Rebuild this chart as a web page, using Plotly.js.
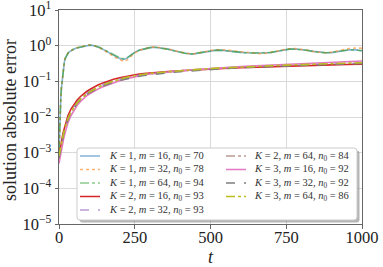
<!DOCTYPE html>
<html>
<head>
<meta charset="utf-8">
<script src="https://cdn.plot.ly/plotly-3.0.1.min.js"></script>
<style>html,body{margin:0;padding:0;background:#fff;}#chart{width:383px;height:267px;}</style>
</head>
<body>
<div id="chart"></div>
<script>
// time grids
const tA = [0,1,2,3,4,6,8,10,12,15,18,21,25,30,35,40,47,53,60,70,80,90,100,110,120,135,150,168,185,200,214,225,240,251,265,284,300,317,340,360,383,400,416,440,460,480,500,520,540,560,580,600,620,640,660,680,700,720,740,760,780,800,820,840,860,880,900,920,940,960,980,1000];
const tB = [0,3,6,10,15,20,25,30,40,50,60,70,80,90,100,115,130,145,160,180,200,220,240,260,280,300,330,360,400,440,480,520,560,600,650,700,750,800,850,900,950,1000];

// K = 1 series (on tA)
const k1m16 = [0.0010,0.0025,0.0050,0.0095,0.016,0.035,0.065,0.10,0.15,0.26,0.36,0.44,0.53,0.62,0.68,0.73,0.79,0.83,0.86,0.91,0.95,0.99,1.03,1.02,0.97,0.87,0.75,0.62,0.50,0.44,0.41,0.45,0.57,0.66,0.75,0.84,0.88,0.90,0.86,0.80,0.71,0.65,0.61,0.58,0.62,0.68,0.72,0.75,0.74,0.72,0.68,0.65,0.63,0.62,0.62,0.62,0.64,0.69,0.75,0.80,0.81,0.79,0.74,0.69,0.65,0.63,0.64,0.68,0.73,0.77,0.76,0.72];
const k1m32 = [0.0008,0.0020,0.0045,0.0090,0.015,0.033,0.062,0.098,0.15,0.27,0.38,0.46,0.55,0.63,0.69,0.74,0.80,0.84,0.88,0.92,0.97,1.01,1.05,1.03,0.98,0.86,0.73,0.59,0.47,0.40,0.36,0.40,0.53,0.63,0.74,0.84,0.90,0.93,0.88,0.81,0.72,0.66,0.62,0.58,0.61,0.67,0.73,0.77,0.77,0.74,0.70,0.66,0.63,0.61,0.60,0.61,0.64,0.70,0.77,0.82,0.83,0.80,0.74,0.68,0.64,0.63,0.66,0.72,0.79,0.84,0.86,0.85];
const k1m64 = [0.0012,0.0030,0.0060,0.011,0.018,0.038,0.068,0.105,0.16,0.27,0.37,0.45,0.54,0.62,0.69,0.74,0.80,0.84,0.87,0.92,0.96,1.00,1.04,1.03,0.99,0.89,0.77,0.64,0.52,0.46,0.43,0.46,0.56,0.65,0.74,0.83,0.88,0.90,0.86,0.79,0.71,0.65,0.61,0.59,0.63,0.69,0.73,0.75,0.74,0.71,0.67,0.64,0.62,0.62,0.63,0.63,0.65,0.70,0.76,0.80,0.80,0.78,0.73,0.68,0.64,0.63,0.65,0.69,0.74,0.77,0.75,0.72];

// K = 2 and K = 3 series (on tB)
const k2m16 = [0.0007,0.0011,0.0016,0.0025,0.0040,0.0060,0.0085,0.0112,0.0170,0.0235,0.0300,0.0370,0.0440,0.0510,0.0580,0.0690,0.0800,0.0905,0.1010,0.1140,0.1260,0.1375,0.1480,0.1565,0.1640,0.1710,0.1800,0.1880,0.1980,0.2080,0.2170,0.2250,0.2330,0.2410,0.2500,0.2590,0.2670,0.2750,0.2830,0.2900,0.2960,0.3020];
const k2m32 = [0.0007,0.0010,0.0014,0.0021,0.0033,0.0049,0.0069,0.0091,0.0141,0.0198,0.0256,0.0322,0.0388,0.0452,0.0518,0.0618,0.0716,0.0815,0.0912,0.1038,0.1165,0.1285,0.1395,0.1490,0.1575,0.1650,0.1755,0.1850,0.1975,0.2090,0.2195,0.2300,0.2395,0.2485,0.2590,0.2690,0.2785,0.2875,0.2965,0.3050,0.3130,0.3210];
const k2m64 = [0.0008,0.0011,0.0015,0.0022,0.0034,0.0051,0.0071,0.0093,0.0142,0.0198,0.0254,0.0316,0.0378,0.0440,0.0502,0.0595,0.0690,0.0785,0.0880,0.1005,0.1130,0.1250,0.1360,0.1460,0.1545,0.1625,0.1735,0.1835,0.1965,0.2080,0.2190,0.2295,0.2395,0.2490,0.2600,0.2710,0.2810,0.2905,0.3000,0.3090,0.3175,0.3260];
const k3m16 = [0.0005,0.0007,0.0010,0.0015,0.0024,0.0036,0.0052,0.0071,0.0112,0.0160,0.0212,0.0268,0.0325,0.0383,0.0440,0.0528,0.0615,0.0705,0.0795,0.0915,0.1040,0.1165,0.1280,0.1400,0.1500,0.1600,0.1720,0.1830,0.1970,0.2100,0.2230,0.2350,0.2470,0.2590,0.2730,0.2870,0.3010,0.3150,0.3290,0.3430,0.3570,0.3700];
const k3m32 = [0.0007,0.0010,0.0014,0.0021,0.0032,0.0047,0.0066,0.0087,0.0134,0.0188,0.0242,0.0300,0.0358,0.0416,0.0474,0.0562,0.0650,0.0738,0.0826,0.0942,0.1058,0.1170,0.1275,0.1370,0.1455,0.1535,0.1645,0.1745,0.1875,0.1995,0.2105,0.2210,0.2310,0.2405,0.2515,0.2620,0.2720,0.2815,0.2910,0.3000,0.3085,0.3170];
const k3m64 = [0.0008,0.0011,0.0015,0.0022,0.0034,0.0050,0.0070,0.0092,0.0140,0.0195,0.0250,0.0310,0.0370,0.0430,0.0500,0.0590,0.0690,0.0790,0.0890,0.1020,0.1150,0.1280,0.1400,0.1500,0.1580,0.1660,0.1770,0.1870,0.2000,0.2120,0.2230,0.2340,0.2440,0.2530,0.2640,0.2750,0.2850,0.2950,0.3050,0.3140,0.3230,0.3320];

const names = [
  "<i>K</i> = 1, <i>m</i> = 16, <i>n</i><sub>0</sub> = 70",
  "<i>K</i> = 1, <i>m</i> = 32, <i>n</i><sub>0</sub> = 78",
  "<i>K</i> = 1, <i>m</i> = 64, <i>n</i><sub>0</sub> = 94",
  "<i>K</i> = 2, <i>m</i> = 16, <i>n</i><sub>0</sub> = 93",
  "<i>K</i> = 2, <i>m</i> = 32, <i>n</i><sub>0</sub> = 93",
  "<i>K</i> = 2, <i>m</i> = 64, <i>n</i><sub>0</sub> = 84",
  "<i>K</i> = 3, <i>m</i> = 16, <i>n</i><sub>0</sub> = 92",
  "<i>K</i> = 3, <i>m</i> = 32, <i>n</i><sub>0</sub> = 92",
  "<i>K</i> = 3, <i>m</i> = 64, <i>n</i><sub>0</sub> = 86"
];
const xs = [tA,tA,tA,tB,tB,tB,tB,tB,tB];
const ys = [k1m16,k1m32,k1m64,k2m16,k2m32,k2m64,k3m16,k3m32,k3m64];
const colors = ["rgba(31,119,180,0.55)","rgba(255,127,14,0.6)","rgba(44,160,44,0.55)","#d62728","rgba(148,103,189,0.65)","rgba(140,86,75,0.6)","#e377c2","#7f7f7f","#bcbd22"];
const dashes = ["solid","dot","dashdot","solid","dash","dashdot","solid","dash","dashdot"];

const traces = names.map((n,i)=>({
  x: xs[i], y: ys[i], name: n, type: "scatter", mode: "lines",
  line: {color: colors[i], width: 1.6, dash: dashes[i]},
  showlegend: false, hoverinfo: "skip"
}));

const yticks = [1e-5,1e-4,1e-3,1e-2,1e-1,1,10];
const ytext = ["10<sup>−5</sup>","10<sup>−4</sup>","10<sup>−3</sup>","10<sup>−2</sup>","10<sup>−1</sup>","10<sup>0</sup>","10<sup>1</sup>"];
const xticks = [0,250,500,750,1000];

// plot-area geometry (pixels) used to place the hand-built legend box
const W = 383, H = 267, ML = 59, MR = 21, MT = 10, MB = 43;
const PW = W - ML - MR, PH = H - MT - MB;
const px = v => (v - ML) / PW;
const py = v => (H - MB - v) / PH;

function roundRect(x0, y0, x1, y1, r) {
  const rx = r / PW, ry = r / PH;
  const a = px(x0), b = px(x1), top = py(y0), bot = py(y1);
  return `M${a+rx},${top} L${b-rx},${top} Q${b},${top} ${b},${top-ry} L${b},${bot+ry} Q${b},${bot} ${b-rx},${bot} L${a+rx},${bot} Q${a},${bot} ${a},${bot+ry} L${a},${top-ry} Q${a},${top} ${a+rx},${top} Z`;
}

const shapes = [];
const annotations = [];
// legend shadow and frame
shapes.push({type: "path", xref: "paper", yref: "paper", layer: "above",
  path: roundRect(79.5, 150.5, 359.5, 222.5, 3), fillcolor: "rgba(120,120,120,0.55)", line: {width: 0}});
shapes.push({type: "path", xref: "paper", yref: "paper", layer: "above",
  path: roundRect(77, 148, 357, 220, 3), fillcolor: "#ffffff", line: {color: "#cccccc", width: 1}});

const rowY = [156, 169.5, 183, 196.5, 210];
const order = [[0,1,2,3,4],[5,6,7,8]];
const colSampleX = [[80, 100], [226, 246]];
const colTextX = [107, 252];
order.forEach((col, c) => {
  col.forEach((idx, r) => {
    const yy = py(rowY[r]);
    shapes.push({type: "line", xref: "paper", yref: "paper", layer: "above",
      x0: px(colSampleX[c][0]), x1: px(colSampleX[c][1]), y0: yy, y1: yy,
      line: {color: colors[idx], width: 1.5, dash: dashes[idx]}});
    annotations.push({xref: "paper", yref: "paper", x: px(colTextX[c]), y: yy,
      xanchor: "left", yanchor: "middle", showarrow: false, text: names[idx],
      font: {size: 10.5, family: "Liberation Serif, serif", color: "#333"}});
  });
});

// y-axis title placed as a rotated annotation
annotations.push({xref: "paper", yref: "paper", x: px(10), y: py(120),
  xanchor: "center", yanchor: "middle", showarrow: false, textangle: -90,
  text: "solution absolute error", font: {size: 18, family: "Liberation Serif, serif", color: "#222"}});

const serif = "Liberation Serif, DejaVu Serif, serif";
const layout = {
  width: W, height: H,
  margin: {l: ML, r: MR, t: MT, b: MB},
  paper_bgcolor: "#fff", plot_bgcolor: "#fff",
  showlegend: false,
  font: {family: serif, color: "#222"},
  xaxis: {
    range: [0, 1000], tickvals: xticks, ticktext: xticks.map(String),
    showgrid: true, gridcolor: "#d9d9d9", gridwidth: 1,
    showline: true, linecolor: "#666", linewidth: 1, mirror: true,
    ticks: "outside", ticklen: 3.5, tickcolor: "#666",
    tickfont: {size: 16.5, family: serif}, ticklabelstandoff: -5,
    zeroline: false, automargin: false,
    title: {text: "<i>t</i>", font: {size: 18, family: serif}, standoff: 8}
  },
  yaxis: {
    type: "log", range: [-5, 1], tickvals: yticks, ticktext: ytext,
    showgrid: true, gridcolor: "#d9d9d9", gridwidth: 1,
    showline: true, linecolor: "#666", linewidth: 1, mirror: true,
    ticks: "outside", ticklen: 3.5, tickcolor: "#666",
    tickfont: {size: 16.5, family: serif}, ticklabeloverflow: "allow",
    zeroline: false, automargin: false
  },
  shapes: shapes,
  annotations: annotations
};

Plotly.newPlot("chart", traces, layout, {staticPlot: true, displayModeBar: false});
</script>
</body>
</html>
